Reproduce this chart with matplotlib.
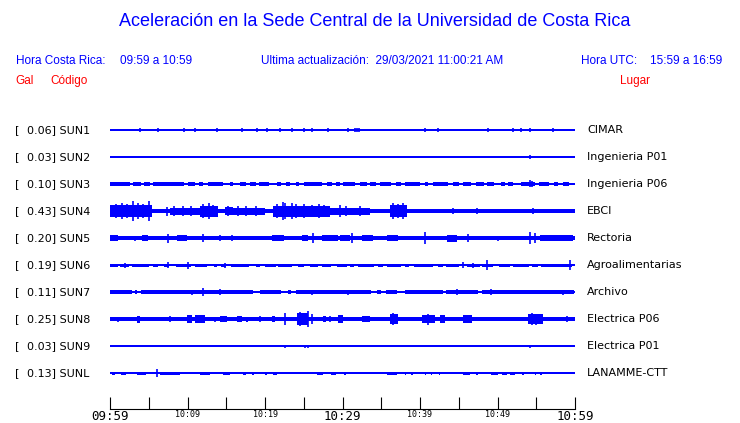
import matplotlib.pyplot as plt

# minutes after 09:59, amplitudes as half-height in pixels
codes = ['SUN1', 'SUN2', 'SUN3', 'SUN4', 'SUN5', 'SUN6', 'SUN7', 'SUN8', 'SUN9', 'SUNL']
peaks = ['0.06', '0.03', '0.10', '0.43', '0.20', '0.19', '0.11', '0.25', '0.03', '0.13']
places = ['CIMAR', 'Ingenieria P01', 'Ingenieria P06', 'EBCI', 'Rectoria',
          'Agroalimentarias', 'Archivo', 'Electrica P06', 'Electrica P01', 'LANAMME-CTT']
tick_labels = ['09:59', '10:09', '10:19', '10:29', '10:39', '10:49', '10:59']

base = [0.8, 0.8, 0.8, 1.6, 2.1, 0.8, 0.8, 2.3, 0.8, 0.8]

segs = [
    [],
    [],
    [(0, 2.6, 2), (3.0, 4.0, 2), (4.4, 5.2, 2), (5.5, 9.5, 2), (10.0, 11.0, 2), (11.5, 12.0, 2),
     (12.6, 14.6, 2), (15.5, 15.9, 2), (16.8, 17.6, 2), (18.0, 18.8, 2), (19.2, 20.5, 2),
     (21.6, 22.1, 2), (22.7, 23.2, 2), (24.0, 24.4, 2), (25.0, 27.3, 2), (28.0, 28.7, 2),
     (29.1, 29.7, 2), (30.1, 31.6, 2), (32.2, 33.2, 2), (33.6, 34.3, 2), (34.8, 36.3, 2),
     (36.9, 37.6, 2), (38.0, 40.0, 2), (40.6, 41.0, 2), (41.7, 43.6, 2), (44.2, 45.0, 2),
     (45.6, 46.6, 2), (47.2, 48.2, 2), (48.7, 49.5, 2), (50.4, 51.0, 2), (51.4, 52.0, 2),
     (53.0, 54.9, 2), (55.3, 56.6, 2), (57.3, 57.8, 2), (58.5, 59.2, 2)],
    [(0, 5.4, 6), (7.7, 11.6, 3.5), (11.6, 13.9, 5.5), (14.8, 15.9, 4), (15.9, 20.0, 3.5),
     (20.0, 21.0, 2), (21.0, 28.4, 5.5), (28.4, 33.5, 3.5), (36.1, 38.3, 6), (38.3, 60, 2.4)],
    [(0, 1.0, 3), (4.1, 4.9, 3), (8.6, 10.0, 3), (20.9, 22.4, 3), (24.8, 25.6, 3),
     (27.3, 29.4, 3), (29.7, 31.0, 3), (32.5, 33.9, 3), (35.7, 37.2, 3), (43.5, 44.8, 3.5),
     (55.5, 59.8, 3)],
    [(0, 1.0, 1.5), (1.3, 2.4, 1.5), (2.8, 5.0, 1.5), (5.5, 6.2, 1.5), (7.0, 7.6, 1.5),
     (8.5, 10.5, 1.5), (11.0, 12.5, 1.5), (13.4, 13.8, 1.5), (14.3, 15.0, 1.5), (15.6, 18.0, 1.5),
     (18.8, 19.3, 1.5), (20.0, 21.4, 1.5), (21.7, 23.5, 1.5), (24.2, 25.0, 1.5), (25.8, 26.8, 1.5),
     (27.4, 28.5, 1.5), (29.3, 30.6, 1.5), (31.0, 31.5, 1.5), (32.0, 34.0, 1.5), (34.6, 35.2, 1.5),
     (35.8, 37.5, 1.5), (38.0, 38.6, 1.5), (39.2, 41.7, 1.5), (42.3, 43.0, 1.5), (43.4, 45.0, 1.5),
     (46.0, 47.8, 1.5), (48.0, 49.4, 1.5), (50.2, 51.6, 1.5), (52.0, 54.0, 1.5), (54.4, 55.2, 1.5),
     (55.6, 59.6, 1.5)],
    [(0, 2.9, 2), (3.2, 3.5, 2), (4.0, 18.4, 2), (19.4, 22.0, 2), (23.0, 23.4, 2),
     (24.0, 33.7, 2), (34.4, 35.0, 2), (35.6, 37.0, 2), (38.0, 43.0, 2), (43.3, 47.5, 2),
     (48.0, 59.9, 2)],
    [(3.5, 3.9, 3.5), (9.9, 10.6, 4), (11.0, 12.3, 4), (14.2, 15.1, 3), (16.4, 17.0, 3),
     (17.6, 17.8, 2.5), (20.9, 21.3, 3), (24.1, 25.6, 6), (27.5, 27.9, 3), (29.4, 30.1, 4),
     (32.5, 33.5, 3), (36.1, 37.2, 5), (40.3, 41.9, 4), (42.6, 43.2, 4), (45.6, 46.7, 4),
     (53.9, 55.9, 5)],
    [],
    [(0.26, 0.65, 1.5), (1.4, 2.0, 1.5), (3.5, 4.7, 1.5), (6.5, 9.0, 1.5), (11.6, 12.9, 1.5),
     (14.6, 15.5, 1.5), (17.2, 17.5, 1.5), (18.3, 18.6, 1.5), (20.0, 20.3, 1.5), (21.0, 21.6, 1.5),
     (26.7, 27.5, 1.5), (28.5, 29.2, 1.5), (30.2, 30.4, 1.5), (35.7, 37.0, 1.5), (38.0, 38.2, 1.5),
     (38.9, 39.1, 1.5), (40.6, 40.8, 1.5), (41.4, 41.6, 1.5), (42.4, 42.6, 1.5), (45.5, 46.4, 1.5),
     (47.2, 47.5, 1.5), (49.1, 50.0, 1.5), (50.6, 51.2, 1.5), (51.6, 52.2, 1.5), (53.2, 53.4, 1.5),
     (54.8, 55.0, 1.5), (55.5, 55.7, 1.5)],
]

spikes = [
    [(3.9, 2), (6.2, 2), (9.5, 2), (11.0, 2), (13.8, 2), (17.0, 2), (19.0, 2), (20.3, 2),
     (21.9, 2), (23.5, 2), (25.0, 2), (26.1, 2), (28.1, 2), (30.7, 2), (31.6, 2), (31.9, 2),
     (32.1, 2), (40.6, 2), (42.3, 2), (48.8, 2), (52.0, 2), (53.0, 2), (54.2, 2), (57.2, 2)],
    [(54.2, 2)],
    [(54.2, 3.5), (54.5, 3)],
    [(0.8, 7), (1.5, 8), (2.2, 7), (2.97, 10), (3.6, 8), (4.2, 7), (5.03, 10), (7.35, 4.5),
     (8.3, 5), (9.4, 5), (10.5, 5), (12.0, 7), (12.8, 8), (13.3, 6), (15.2, 5), (16.5, 5),
     (17.6, 5), (18.8, 5), (21.5, 7), (22.3, 9), (22.6, 8), (23.5, 8), (24.0, 7), (25.0, 7),
     (26.0, 6), (27.0, 7), (27.6, 6), (29.7, 6), (30.5, 5), (32.2, 5), (36.5, 8), (37.2, 7),
     (37.8, 8), (44.3, 3), (47.4, 3), (54.6, 3)],
    [(7.5, 4.5), (12.0, 4), (14.2, 3), (26.2, 5), (31.2, 5), (40.7, 6), (46.2, 4), (50.0, 2.5),
     (54.2, 6), (54.8, 5), (3.2, 2.5), (15.8, 3)],
    [(1.94, 2.5), (7.48, 3), (10.06, 3.5), (14.84, 2.5), (45.5, 3), (48.65, 5), (59.35, 5),
     (46.8, 2.5)],
    [(10.6, 2.5), (12.0, 4), (14.2, 3), (30.7, 2.5), (44.8, 3), (49.2, 3), (58.5, 2.5), (26.0, 2.5)],
    [(22.6, 6), (25.5, 8), (24.5, 7), (26.0, 5), (28.4, 3), (36.5, 6), (54.5, 6), (55.0, 5.5),
     (59.0, 3), (1.0, 2.5), (7.7, 3), (41.0, 5.5), (13.5, 2.5), (19.4, 3)],
    [(22.6, 1.5), (25.2, 1.5), (25.5, 1.5), (29.7, 1), (54.2, 1.5), (54.8, 1)],
    [(6.06, 4)],
]

blue = '#0000ff'
W, H = 740, 423
fig = plt.figure(figsize=(W / 100, H / 100), dpi=100)
ax = fig.add_axes([110 / W, 14 / H, 465 / W, 294 / H])
ax.set_xlim(0, 60)
ax.set_ylim(409, 115)

for i in range(len(codes)):
    c = 130 + 27 * i
    ax.fill_between([0, 60], c - base[i], c + base[i], color=blue, lw=0)
    for t0, t1, h in segs[i]:
        ax.bar(t0, 2 * h, width=t1 - t0, bottom=c - h, align='edge', color=blue, lw=0)
    for t, h in spikes[i]:
        ax.vlines(t, c - h, c + h, color=blue, lw=1.2)
    fig.text(15 / W, 1 - c / H, '[', fontsize=8, va='center')
    fig.text(27 / W, 1 - c / H, peaks[i] + '] ' + codes[i], fontsize=8, va='center')
    fig.text(587 / W, 1 - c / H, places[i], fontsize=8, va='center')

for s in ['top', 'left', 'right']:
    ax.spines[s].set_visible(False)
ax.set_yticks([])
ax.set_xticks(range(0, 61, 5))
labels = []
for m in range(0, 61, 5):
    labels.append(tick_labels[m // 10] if m % 10 == 0 else '')
ax.set_xticklabels(labels, family='DejaVu Sans Mono')
ax.tick_params(axis='x', direction='in', length=9, pad=0.5)
for k, lbl in enumerate(ax.get_xticklabels()):
    lbl.set_fontsize(9 if k in (0, 6, 12) else 6)

hf = 'Liberation Sans'
fig.text(375 / W, 1 - 22 / H, 'Aceleración en la Sede Central de la Universidad de Costa Rica',
         color=blue, fontsize=13, family=hf, ha='center', va='center')
fig.text(16 / W, 1 - 61 / H, 'Hora Costa Rica:', color=blue, fontsize=8.5, family=hf, va='center')
fig.text(120 / W, 1 - 61 / H, '09:59 a 10:59', color=blue, fontsize=8.5, family=hf, va='center')
fig.text(261 / W, 1 - 61 / H, 'Ultima actualización:  29/03/2021 11:00:21 AM', color=blue,
         fontsize=8.5, family=hf, va='center')
fig.text(581 / W, 1 - 61 / H, 'Hora UTC:', color=blue, fontsize=8.5, family=hf, va='center')
fig.text(650 / W, 1 - 61 / H, '15:59 a 16:59', color=blue, fontsize=8.5, family=hf, va='center')
fig.text(15 / W, 1 - 81 / H, 'Gal', color='red', fontsize=8.5, family=hf, va='center')
fig.text(50 / W, 1 - 81 / H, 'Código', color='red', fontsize=8.5, family=hf, va='center')
fig.text(650 / W, 1 - 81 / H, 'Lugar', color='red', fontsize=8.5, family=hf, va='center', ha='right')

fig.savefig('out.png', dpi=100)
